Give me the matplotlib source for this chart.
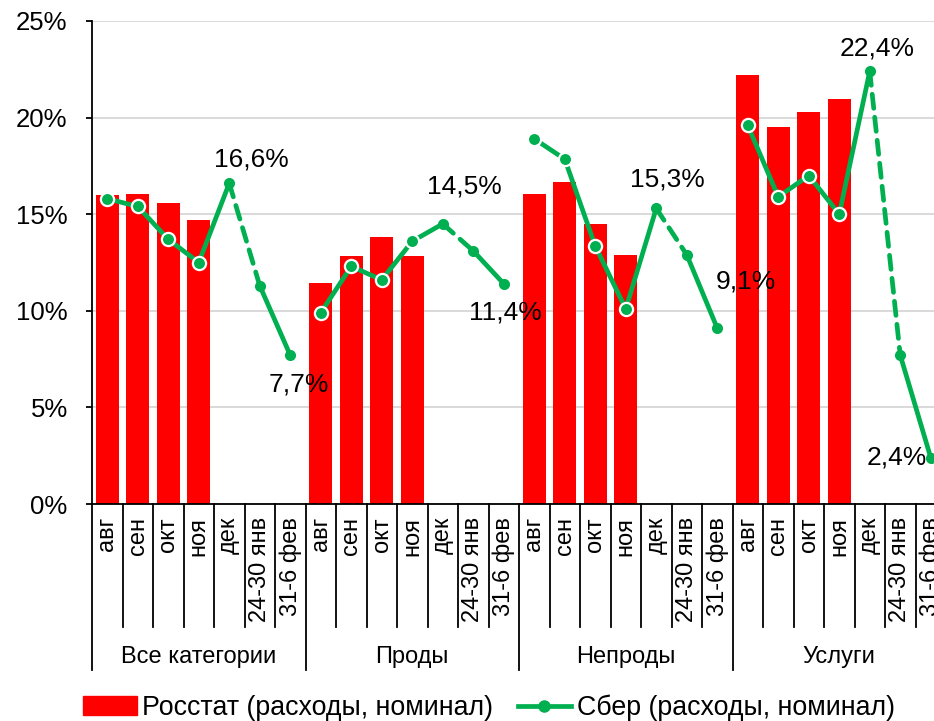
import numpy as np
import matplotlib.pyplot as plt
from matplotlib.ticker import FuncFormatter
from matplotlib.patches import Patch
from matplotlib.lines import Line2D

plt.rcParams['font.family'] = ['Liberation Sans', 'DejaVu Sans']

# categories and periods
groups = ['Все категории', 'Проды', 'Непроды', 'Услуги']
periods = ['авг', 'сен', 'окт', 'ноя', 'дек', '24-30 янв', '31-6 фев']

# Rosstat monthly figures (авг..ноя), %
rosstat_all = [16.0, 16.05, 15.6, 14.7]
rosstat_food = [11.45, 12.85, 13.8, 12.85]
rosstat_nonfood = [16.05, 16.65, 14.5, 12.9]
rosstat_services = [22.2, 19.5, 20.3, 20.95]

# Sber figures for all periods, %
sber_all = [15.8, 15.4, 13.7, 12.5, 16.6, 11.3, 7.7]
sber_food = [9.9, 12.3, 11.6, 13.6, 14.5, 13.1, 11.4]
sber_nonfood = [18.9, 17.85, 13.35, 10.1, 15.3, 12.9, 9.1]
sber_services = [19.6, 15.9, 17.0, 15.0, 22.4, 7.7, 2.4]

rosstat = [rosstat_all, rosstat_food, rosstat_nonfood, rosstat_services]
sber = [sber_all, sber_food, sber_nonfood, sber_services]

red = '#FF0000'
green = '#00B050'

fig = plt.figure(figsize=(9.34, 7.21), dpi=100)
ax = fig.add_axes([92/934, 217/721, 854/934, 483/721])

n = len(periods)
for g in range(len(groups)):
    x0 = g * n
    xs = np.arange(x0, x0 + n)
    ax.bar(xs[:len(rosstat[g])], rosstat[g], width=0.76, color=red, zorder=2)
    s = sber[g]
    # solid part авг..дек
    ax.plot(xs[:5], s[:5], color=green, lw=3.4, zorder=3, solid_capstyle='round')
    # dashed step дек -> янв, then solid янв -> фев
    ax.plot(xs[4:6], s[4:6], color=green, lw=3.4, zorder=3,
            dashes=(3.0, 1.9), dash_capstyle='round')
    ax.plot(xs[5:7], s[5:7], color=green, lw=3.4, zorder=3, solid_capstyle='round')
    ax.plot(xs[:4], s[:4], 'o', color=green, ms=9.5, mec='white', mew=1.6, zorder=4)
    ax.plot(xs[4:], s[4:], 'o', color=green, ms=8, mec=green, mew=0, zorder=4)

# value labels for дек and the last week
label_offsets = [((22, 24), (9, -29)),
                 ((22, 37), (2, -29)),
                 ((11, 29), (29, 47)),
                 ((7, 23), (-34, 0))]
for g in range(len(groups)):
    for k, idx in enumerate([4, 6]):
        v = sber[g][idx]
        ax.annotate(f'{v:.1f}%'.replace('.', ','), (g * n + idx, v),
                    xytext=label_offsets[g][k], textcoords='offset pixels',
                    ha='center', va='center', fontsize=19, zorder=5,
                    annotation_clip=False)

ax.set_xlim(-0.5, len(groups) * n - 0.5)
ax.set_ylim(0, 25)
ax.set_yticks(np.arange(0, 26, 5))
ax.yaxis.set_major_formatter(FuncFormatter(lambda v, p: f'{v:.0f}%'))
ax.tick_params(axis='y', labelsize=18.5, length=4.5, width=1.3, pad=13, color='black')
ax.set_xticks([])
ax.grid(axis='y', color='#D9D9D9', lw=1.4, zorder=0)
ax.set_axisbelow(True)
for side in ['top', 'right']:
    ax.spines[side].set_visible(False)
ax.spines['left'].set_linewidth(1.3)
ax.spines['bottom'].set_linewidth(1.3)

# two-level category axis
tr = ax.get_xaxis_transform()
for i in range(len(groups) * n + 1):
    xb = i - 0.5
    bottom = -0.344 if i % n == 0 else -0.255
    ax.plot([xb, xb], [0, bottom], color='black', lw=1.3, transform=tr, clip_on=False)
for g in range(len(groups)):
    for j, p in enumerate(periods):
        ax.text(g * n + j, -0.027, p, rotation=90, ha='center', va='top',
                fontsize=17, transform=tr, clip_on=False)
    ax.text(g * n + (n - 1) / 2, -0.317, groups[g], ha='center', va='center',
            fontsize=17, transform=tr, clip_on=False)

# legend
handles = [Patch(color=red, label='Росстат (расходы, номинал)'),
           Line2D([], [], color=green, lw=3.4, marker='o', ms=8, mec=green,
                  label='Сбер (расходы, номинал)')]
fig.legend(handles=handles, loc='center', bbox_to_anchor=(489/934, 1 - 708/721),
           ncol=2, frameon=False, fontsize=19.3, handlelength=2.0,
           handletextpad=0.2, columnspacing=0.9)

fig.savefig('out.png', dpi=100)
